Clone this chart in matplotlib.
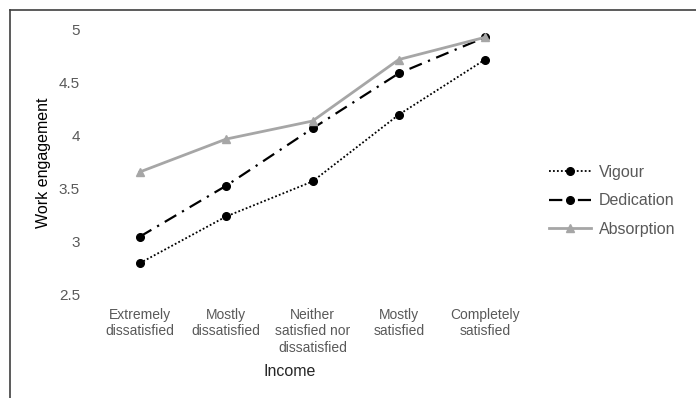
import numpy as np
from matplotlib import pyplot as plt
from matplotlib.lines import Line2D

categories = ["Extremely\ndissatisfied", "Mostly\ndissatisfied",
              "Neither\nsatisfied nor\ndissatisfied", "Mostly\nsatisfied",
              "Completely\nsatisfied"]
vigour = [2.80, 3.24, 3.57, 4.20, 4.72]
dedication = [3.05, 3.53, 4.07, 4.59, 4.93]
absorption = [3.66, 3.97, 4.14, 4.72, 4.93]
yticks = [2.5, 3, 3.5, 4, 4.5, 5]

plt.rcParams['font.family'] = ['Liberation Sans', 'DejaVu Sans']
grey = '#595959'

fig = plt.figure(figsize=(6.96, 3.98), dpi=100)
ax = fig.add_axes([0.139, 0.259, 0.62, 0.666])

x = np.arange(len(categories))
ax.plot(x, vigour, color='black', linestyle=(0, (1, 1.2)), lw=1.3,
        marker='o', ms=5.5, label='Vigour')
ax.plot(x, dedication, color='black', linestyle=(0, (6, 3, 1, 3)), lw=1.6,
        marker='o', ms=5.5, label='Dedication')
ax.plot(x, absorption, color='#a6a6a6', linestyle='-', lw=2,
        marker='^', ms=6, label='Absorption')

ax.set_xlim(-0.5, 4.5)
ax.set_ylim(2.5, 5)
ax.set_yticks(yticks)
ax.set_yticklabels(['2.5', '3', '3.5', '4', '4.5', '5'])
ax.set_xticks(x)
ax.set_xticklabels(categories, fontsize=10, color=grey, linespacing=1.2)
ax.tick_params(axis='y', length=0, pad=12, labelsize=11, labelcolor=grey)
ax.tick_params(axis='x', length=0, pad=9.5)
for s in ax.spines.values():
    s.set_visible(False)

ax.set_ylabel('Work engagement', fontsize=11.5, color='black', labelpad=6)
ax.set_xlabel('Income', fontsize=11.5, color='#262626', va='center')
ax.xaxis.set_label_coords(0.448, -0.29)

leg = ax.legend(loc='center left', bbox_to_anchor=(1.015, 0.355), frameon=False,
                fontsize=11.5, handlelength=2.6, labelspacing=0.85,
                handletextpad=0.5, numpoints=1)
for t in leg.get_texts():
    t.set_color(grey)

# outer border (left and top)
fig.add_artist(Line2D([9.5 / 696, 9.5 / 696], [0, 1 - 10 / 398], color='#404040', lw=1.2))
fig.add_artist(Line2D([9.5 / 696, 1], [1 - 10 / 398, 1 - 10 / 398], color='#404040', lw=1.2))

plt.savefig('out.png', dpi=100)
